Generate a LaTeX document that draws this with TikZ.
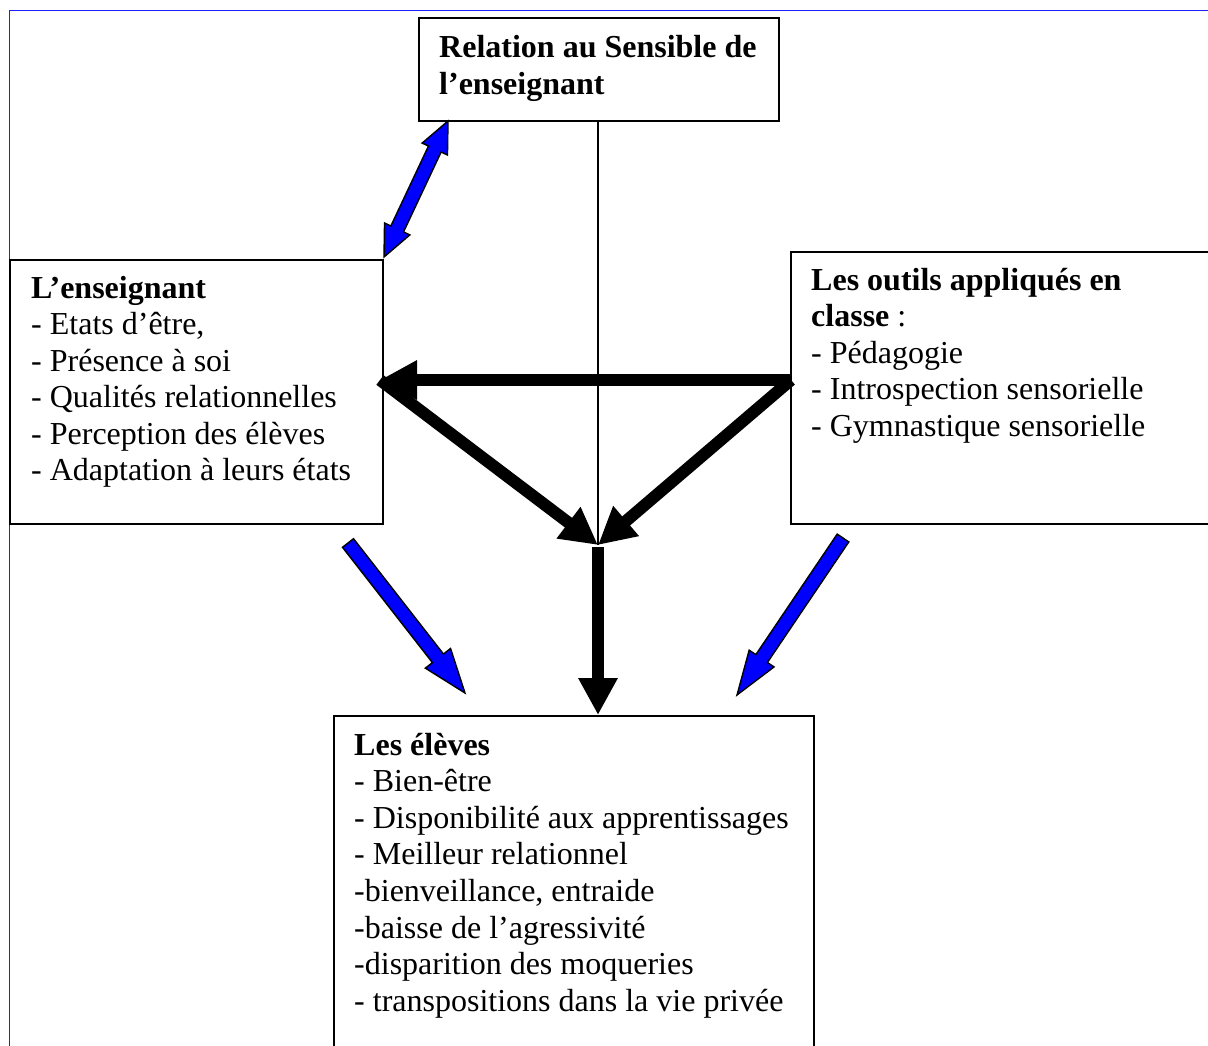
\documentclass[tikz,border=0pt]{standalone}
\usepackage{fontspec}
\setmainfont{Liberation Serif}
\usetikzlibrary{arrows.meta,calc}
\definecolor{frameblue}{RGB}{30,30,255}
\definecolor{arrowblue}{RGB}{0,0,255}
\tikzset{
  box/.style={draw=black, line width=1.6pt, fill=white, inner sep=0pt, anchor=north west},
  txt/.style={inner sep=0pt, anchor=base west},
  bluearrow/.style={fill=arrowblue, draw=black, line width=1.4pt, line join=miter},
  bigarrow/.style={line width=12pt, -{Triangle[length=37pt,width=37pt]}},
  thinline/.style={line width=1.3pt}
}
\newcommand{\bodytext}{\fontsize{32pt}{36.6pt}\selectfont}
% single block arrow: #1 tail, #2 tip, #3 shaft half width, #4 head half width, #5 head length
\newcommand{\singleblock}[5]{%
  \coordinate (sb-c) at ($(#2)!#5!(#1)$);
  \filldraw[bluearrow] ($(#1)!#3!90:(#2)$) -- ($(sb-c)!#3!90:(#2)$) -- ($(sb-c)!#4!90:(#2)$)
    -- (#2) -- ($(sb-c)!#4!-90:(#2)$) -- ($(sb-c)!#3!-90:(#2)$) -- ($(#1)!#3!-90:(#2)$) -- cycle;}
% double block arrow: #1 tip, #2 other tip, #3 shaft half width, #4 head half width, #5 head length
\newcommand{\doubleblock}[5]{%
  \coordinate (db-a) at ($(#1)!#5!(#2)$);
  \coordinate (db-b) at ($(#2)!#5!(#1)$);
  \filldraw[bluearrow] (#1) -- ($(db-a)!#4!90:(#1)$) -- ($(db-a)!#3!90:(#1)$) -- ($(db-b)!#3!90:(#1)$)
    -- ($(db-b)!#4!90:(#1)$) -- (#2) -- ($(db-b)!#4!-90:(#1)$) -- ($(db-b)!#3!-90:(#1)$)
    -- ($(db-a)!#3!-90:(#1)$) -- ($(db-a)!#4!-90:(#1)$) -- cycle;}
\begin{document}
\begin{tikzpicture}[x=1pt,y=-1pt]
\useasboundingbox (0,0) rectangle (1208,1046);
\clip (0,0) rectangle (1208,1046);
\fill[white] (0,0) rectangle (1208,1046);
% page frame
\draw[frameblue, line width=1.6pt] (9.3,1046) -- (9.3,10.5) -- (1208,10.5);

% boxes
\node[box, minimum width=360pt, minimum height=103pt] (rel) at (418,17) {};
\node[box, minimum width=373pt, minimum height=264pt] (ens) at (9,259) {};
\node[box, minimum width=440pt, minimum height=272pt] (outils) at (790,251) {};
\node[box, minimum width=480pt, minimum height=360pt] (eleves) at (333,715) {};

% texts
\node[txt] (relt) at (439,58) {\parbox[t]{335pt}{\bodytext\bfseries
  Relation au Sensible de\\ l’enseignant}};
\node[txt] (enst) at (31,298) {\parbox[t]{345pt}{\bodytext
  \textbf{L’enseignant}\\
  - Etats d’être,\\
  - Présence à soi\\
  - Qualités relationnelles\\
  - Perception des élèves\\
  - Adaptation à leurs états}};
\node[txt] (outilst) at (811,290) {\parbox[t]{390pt}{\bodytext
  \textbf{Les outils appliqués en}\\
  \textbf{classe} :\\
  - Pédagogie\\
  - Introspection sensorielle\\
  - Gymnastique sensorielle}};
\node[txt] (elevest) at (354,755) {\parbox[t]{455pt}{\bodytext
  \textbf{Les élèves}\\
  - Bien-être\\
  - Disponibilité aux apprentissages\\
  - Meilleur relationnel\\
  -bienveillance, entraide\\
  -baisse de l’agressivité\\
  -disparition des moqueries\\
  - transpositions dans la vie privée}};

% connector points
\coordinate (m) at (598,545);
\coordinate (hr) at (791,380);
\coordinate (hl) at (380,380);
\coordinate (vs) at (598,547);

% thin vertical line
\draw[thinline] (rel.south -| m) -- (m);

% black arrows
\draw[bigarrow] (hr) -- (hl);
\draw[bigarrow] (hl) -- (m);
\draw[bigarrow] (hr) -- (m);
\draw[bigarrow] (vs) -- (vs |- eleves.north);

% blue arrows
\coordinate (d1) at (448,121);
\coordinate (d2) at (384,257);
\doubleblock{d1}{d2}{7pt}{14pt}{31pt}
\coordinate (la) at (348,543);
\coordinate (lb) at (465,693);
\singleblock{la}{lb}{7pt}{16pt}{44pt}
\coordinate (ra) at (843,538);
\coordinate (rb) at (737,695);
\singleblock{ra}{rb}{7pt}{15pt}{44pt}
\end{tikzpicture}
\end{document}
